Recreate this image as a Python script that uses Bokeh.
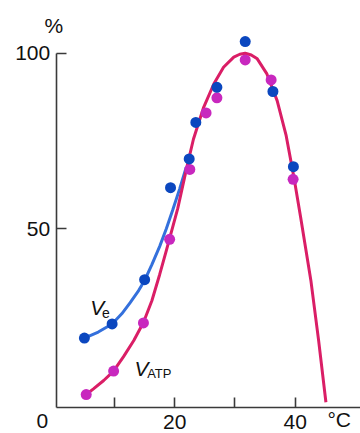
from bokeh.plotting import figure
from bokeh.models import Label, FixedTicker, Range1d
from bokeh.embed import file_html
from bokeh.resources import INLINE

# measured points (temperature in degC, activity in %)
temp_ve = [5.0, 9.6, 15.0, 19.3, 22.4, 23.5, 27.0, 31.7, 36.3, 39.7]
ve = [18.9, 22.9, 35.5, 61.7, 69.9, 80.3, 90.3, 103.3, 89.1, 67.7]
temp_atp = [5.3, 9.85, 14.8, 19.15, 22.5, 25.2, 27.0, 31.7, 36.0, 39.65]
vatp = [2.8, 9.5, 23.2, 47.0, 66.9, 83.0, 87.3, 98.1, 92.4, 64.1]

# fitted curves
fit_ve_t = [5.0, 7.3, 9.6, 11.2, 12.6, 14.0, 15.0, 16.2, 17.5, 18.6, 19.65, 20.8, 21.9]
fit_ve = [18.9, 20.6, 22.9, 25.8, 29.0, 32.4, 35.3, 39.8, 45.0, 50.0, 55.3, 61.3, 67.5]
fit_atp_t = [5.3, 6.5, 8.2, 9.8, 11.5, 13.2, 14.8, 16.2, 17.5, 18.6, 20.5, 22.0, 23.1,
             24.8, 26.5, 28.1, 29.8, 30.8, 31.7, 32.7, 33.7, 35.3, 37.0, 38.5, 39.75,
             40.9, 42.6, 43.9, 45.1]
fit_atp = [2.8, 4.4, 6.8, 9.4, 13.6, 18.2, 23.3, 29.5, 37.0, 43.8, 55.8, 67.5, 75.5,
           84.6, 91.3, 96.0, 98.9, 99.7, 100.0, 99.5, 98.4, 94.1, 86.5, 76.5, 65.0,
           53.3, 35.3, 18.0, 0.6]

x_ticks = [10, 20, 30, 40]
x_tick_labels = {10: "", 20: "20", 30: "", 40: "40"}
y_ticks = [50, 100]

FONT = "Liberation Sans"
AXIS_COLOR = "#3a3a3a"

p = figure(width=360, height=433, x_range=Range1d(-8.93, 50.84), y_range=Range1d(-8.29, 115.01),
           output_backend="svg", toolbar_location=None,
           min_border_left=0, min_border_right=0, min_border_top=0, min_border_bottom=0)
p.outline_line_color = None
p.grid.visible = False
p.background_fill_color = "white"
p.border_fill_color = "white"

for ax in p.xaxis:
    ax.fixed_location = -0.88
    ax.bounds = (0.32, 50.84)
    ax.ticker = FixedTicker(ticks=x_ticks)
    ax.major_label_overrides = x_tick_labels
    ax.major_label_standoff = 8
for ax in p.yaxis:
    ax.fixed_location = 0.32
    ax.bounds = (-0.88, 100)
    ax.ticker = FixedTicker(ticks=y_ticks)
    ax.major_label_standoff = 6
for ax in list(p.xaxis) + list(p.yaxis):
    ax.axis_line_color = AXIS_COLOR
    ax.axis_line_width = 1.6
    ax.major_tick_line_color = AXIS_COLOR
    ax.major_tick_line_width = 1.6
    ax.major_tick_in = 10
    ax.major_tick_out = 0
    ax.minor_tick_line_color = None
    ax.major_label_text_font = FONT
    ax.major_label_text_font_size = "21px"
    ax.major_label_text_color = "#111111"

p.line(fit_ve_t, fit_ve, line_color="#3470DC", line_width=3)
p.line(fit_atp_t, fit_atp, line_color="#DA1E66", line_width=3)
p.scatter(temp_atp, vatp, size=11, fill_color="#C828BE", line_color=None)
p.scatter(temp_ve, ve, size=11, fill_color="#0B47BF", line_color=None)

def lab(x, y, t, size, style="normal", align="left", base="alphabetic"):
    p.add_layout(Label(x=x, y=y, text=t, text_font=FONT, text_font_size=size,
                       text_font_style=style, text_align=align, text_baseline=base,
                       text_color="#111111"))

lab(5.98, 27.5, "V", "21px", "italic")
lab(7.92, 26.0, "e", "14px")
lab(13.3, 10.1, "V", "21px", "italic")
lab(15.42, 8.7, "ATP", "13px")
lab(-0.08, 108.0, "%", "21px", align="center", base="middle")
lab(-2.0, -2.6, "0", "21px", align="center", base="top")
lab(47.3, -0.9, "°C", "21px", align="center", base="top")

open("out.html", "w").write(file_html(p, INLINE))
